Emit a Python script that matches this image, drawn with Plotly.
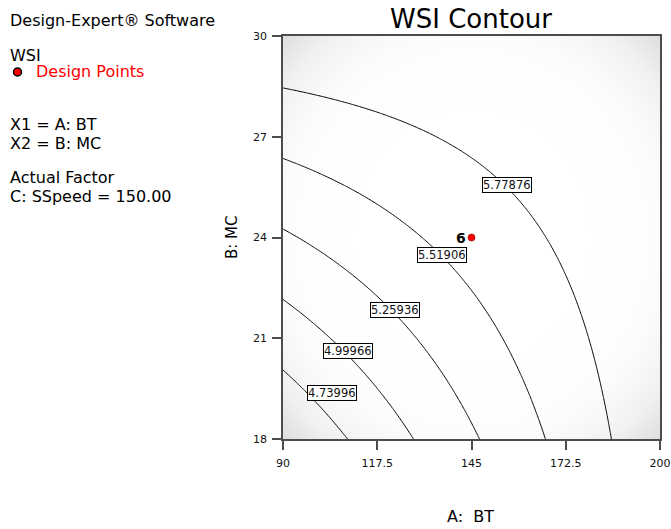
import numpy as np
import plotly.graph_objects as go

# ---------------- data ----------------
bt_range = [90, 200]                 # A: BT
mc_range = [18, 30]                  # B: MC
bt_ticks = [90, 117.5, 145, 172.5, 200]
mc_ticks = [18, 21, 24, 27, 30]

# Quadratic model in coded units, estimated from the drawn contours
# order: intercept, A, B, AB, A^2, B^2
model_terms = ["b0", "bA", "bB", "bAB", "bAA", "bBB"]
model_coefs = [5.6227, 0.3947, 0.3947, -0.3473, 0.0, 0.0]

contour_levels = [4.73996, 4.99966, 5.25936, 5.51906, 5.77876]
label_text = ["4.73996", "4.99966", "5.25936", "5.51906", "5.77876"]
label_bt = [104.3, 109.0, 122.6, 136.4, 155.5]
label_mc = [19.38, 20.61, 21.83, 23.49, 25.55]

design_bt = [145]
design_mc = [24]
design_reps = ["6"]

info_lines = ["Design-Expert® Software", "WSI", "Design Points",
              "X1 = A: BT", "X2 = B: MC", "Actual Factor", "C: SSpeed = 150.00"]

# ---------------- surface ----------------
b0, bA, bB, bAB, bAA, bBB = model_coefs
xc = (bt_range[0] + bt_range[1]) / 2
xh = (bt_range[1] - bt_range[0]) / 2
yc = (mc_range[0] + mc_range[1]) / 2
yh = (mc_range[1] - mc_range[0]) / 2
xg = np.linspace(bt_range[0], bt_range[1], 221)
yg = np.linspace(mc_range[0], mc_range[1], 241)
X, Y = np.meshgrid(xg, yg)
a = (X - xc) / xh
b = (Y - yc) / yh
Z = b0 + bA * a + bB * b + bAB * a * b + bAA * a ** 2 + bBB * b ** 2

# decorative vignette shading for the plot background (style only)
xs = np.linspace(bt_range[0], bt_range[1], 56)
ys = np.linspace(mc_range[0], mc_range[1], 61)
XS, YS = np.meshgrid(xs, ys)
AS, BS = (XS - xc) / xh, (YS - yc) / yh
V = ((AS ** 2 + BS ** 2) / 2) ** 2

FONT = "DejaVu Sans"
W, H = 671, 529
L, R, T, B = 283, 11, 36, 90
PW, PH = W - L - R, H - T - B


def px(xp):
    return (xp - L) / PW


def py(yp):
    return (H - B - yp) / PH


fig = go.Figure()

fig.add_trace(go.Heatmap(
    x=xs, y=ys, z=V, zmin=0, zmax=1, zsmooth="best",
    colorscale=[[0, "#ffffff"], [0.25, "#fcfcfc"], [0.6, "#f0f0f0"], [1, "#dcdcdc"]],
    showscale=False, hoverinfo="skip"))

fig.add_trace(go.Contour(
    x=xg, y=yg, z=Z,
    contours=dict(start=contour_levels[0], end=contour_levels[-1] + 1e-4,
                  size=contour_levels[1] - contour_levels[0], coloring="lines"),
    colorscale=[[0, "black"], [1, "black"]], line=dict(width=1),
    showscale=False, hoverinfo="skip"))

fig.add_trace(go.Scatter(
    x=design_bt, y=design_mc, mode="markers",
    marker=dict(color="red", size=7, line=dict(color="#7a0000", width=0.6)),
    hoverinfo="skip", showlegend=False))

ann = []
for t, xv, yv in zip(label_text, label_bt, label_mc):
    ann.append(dict(x=xv, y=yv, xref="x", yref="y", text=t, showarrow=False,
                    font=dict(family=FONT, size=11.5, color="#111"),
                    bgcolor="white", bordercolor="black", borderwidth=1,
                    borderpad=0))
for t, xv, yv in zip(design_reps, design_bt, design_mc):
    ann.append(dict(x=xv, y=yv, xref="x", yref="y", text="<b>" + t + "</b>",
                    showarrow=False, xanchor="right", xshift=-4,
                    font=dict(family=FONT, size=14, color="black")))

# title and axis titles
ann.append(dict(x=px(471), y=py(19), xref="paper", yref="paper", text="WSI Contour",
                showarrow=False, xanchor="center", yanchor="middle",
                font=dict(family=FONT, size=26, color="black")))
ann.append(dict(x=px(470), y=py(516), xref="paper", yref="paper", text="A:  BT",
                showarrow=False, xanchor="center", yanchor="middle",
                font=dict(family=FONT, size=16, color="black")))
ann.append(dict(x=px(232), y=py(237), xref="paper", yref="paper", text="B: MC",
                showarrow=False, textangle=-90, xanchor="center", yanchor="middle",
                font=dict(family=FONT, size=15, color="black")))

# left info block
info_y = [20, 55, 72, 124.5, 143.5, 177.5, 196.5]
info_x = [9, 9, 35, 9, 9, 9, 9]
for t, xv, yv in zip(info_lines, info_x, info_y):
    ann.append(dict(x=px(xv), y=py(yv), xref="paper", yref="paper", text=t,
                    showarrow=False, xanchor="left", yanchor="middle", borderpad=0,
                    font=dict(family=FONT, size=16,
                              color="red" if t == "Design Points" else "black")))

shapes = [dict(type="circle", xref="paper", yref="paper",
               xsizemode="pixel", ysizemode="pixel",
               xanchor=px(17.5), yanchor=py(72),
               x0=-4, x1=4, y0=-4, y1=4,
               fillcolor="red", line=dict(color="black", width=1.5))]

axis_common = dict(showline=True, mirror=True, linecolor="#4d4d4d", linewidth=1.5,
                   ticks="outside", ticklen=9, tickwidth=1.5, tickcolor="#4d4d4d",
                   showgrid=False, zeroline=False, automargin=False,
                   tickfont=dict(family=FONT, size=11, color="#111"))

fig.update_layout(
    width=W, height=H, margin=dict(l=L, r=R, t=T, b=B, autoexpand=False),
    paper_bgcolor="white", plot_bgcolor="white",
    showlegend=False, annotations=ann, shapes=shapes,
    xaxis=dict(range=bt_range, tickvals=bt_ticks, ticktext=[str(v) for v in bt_ticks],
               ticklabelstandoff=4, **axis_common),
    yaxis=dict(range=mc_range, tickvals=mc_ticks, ticktext=[str(v) for v in mc_ticks],
               ticklabelstandoff=3, **axis_common),
)

fig.write_html(
    "out.html",
    config={"displayModeBar": False},
    post_script="document.documentElement.style.margin='0';"
                "document.body.style.margin='0';"
                "document.body.style.overflow='hidden';"
                "document.documentElement.style.overflow='hidden';")
